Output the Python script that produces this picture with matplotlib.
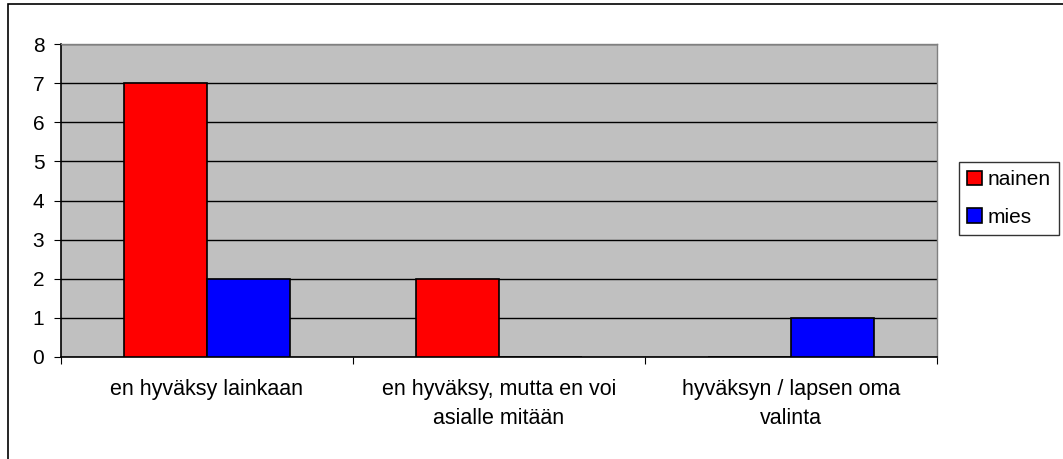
import matplotlib
matplotlib.use("Agg")
import matplotlib.pyplot as plt
import matplotlib.patches as mpatches
import numpy as np

categories = ["en hyväksy lainkaan", "en hyväksy, mutta en voi\nasialle mitään", "hyväksyn / lapsen oma\nvalinta"]
series_names = ["nainen", "mies"]
nainen = [7, 2, 0]
mies = [2, 0, 1]
colors = ["#FF0000", "#0000FF"]

W, H = 1063, 459
fig = plt.figure(figsize=(W / 100, H / 100), dpi=100)
plt.rcParams["font.family"] = ["Liberation Sans", "DejaVu Sans"]

# plot area in pixels: left 61, right 937, top 44, bottom 357
ax = fig.add_axes([61 / W, 1 - 357 / H, (937 - 61) / W, (357 - 44) / H])
ax.set_facecolor("#C0C0C0")

x = np.arange(len(categories))
bw = 0.285
ax.bar(x - bw / 2, nainen, bw, color=colors[0], edgecolor="black", linewidth=1.2,
       label=series_names[0], zorder=3)
ax.bar(x + bw / 2, mies, bw, color=colors[1], edgecolor="black", linewidth=1.2,
       label=series_names[1], zorder=3)

ax.set_xlim(-0.5, len(categories) - 0.5)
ax.set_ylim(0, 8)
ax.set_yticks(range(0, 9))
ax.yaxis.grid(True, color="black", linewidth=1, zorder=1)
ax.set_axisbelow(True)

ax.set_xticks(np.arange(-0.5, len(categories)), minor=False)
ax.set_xticklabels([])
ax.set_xticks(x, minor=True)
ax.set_xticklabels(categories, minor=True, fontsize=15.5, linespacing=1.5)
ax.tick_params(axis="x", which="minor", length=0, pad=16)
ax.tick_params(axis="x", which="major", length=5, direction="out", color="black")
ax.tick_params(axis="y", length=5, direction="out", labelsize=15, pad=7)

for side in ["top", "right"]:
    ax.spines[side].set_color("#808080")
    ax.spines[side].set_linewidth(1)
for side in ["left", "bottom"]:
    ax.spines[side].set_color("black")
    ax.spines[side].set_linewidth(1.2)

leg = ax.legend(loc="upper left", bbox_to_anchor=(959 / W, 1 - 162 / H),
                bbox_transform=fig.transFigure, frameon=True, fancybox=False,
                edgecolor="black", fontsize=15, handlelength=0.72, handleheight=0.72,
                handletextpad=0.25, borderpad=0.4, labelspacing=0.9, borderaxespad=0)
leg.get_frame().set_linewidth(1)

# outer chart border (left and top visible)
fig.patches.append(mpatches.Rectangle((8 / W, -0.1), 1.2, 1 - 4 / H + 0.1,
                                      transform=fig.transFigure, fill=False,
                                      edgecolor="black", linewidth=1.2))

fig.savefig("out.png", dpi=100)
